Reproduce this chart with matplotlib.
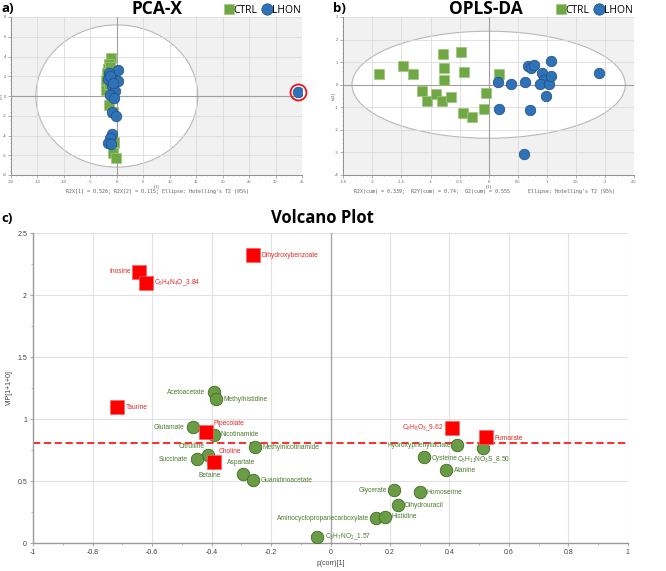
import matplotlib
matplotlib.use('Agg')
import matplotlib.pyplot as plt
from matplotlib.patches import Ellipse
from matplotlib.lines import Line2D
from matplotlib.ticker import MultipleLocator, FuncFormatter

plt.rcParams['font.family'] = ['Liberation Sans', 'DejaVu Sans']
plt.rcParams['mathtext.fontset'] = 'custom'
plt.rcParams['mathtext.rm'] = 'Liberation Sans'
plt.rcParams['mathtext.default'] = 'regular'

# ---------------- data ----------------
pca_ctrl_t1 = [-1.1, -1.4, -1.6, -1.9, -2.1, -2.0, -1.5, -1.2, -0.9, -1.4, -0.7, -0.6, -0.7, -0.6, -0.1, -1.0, -0.8, -1.3]
pca_ctrl_t2 = [3.8, 3.2, 2.7, 2.3, 1.6, 0.6, 1.2, 1.8, 1.5, -0.9, -1.6, -4.8, -5.8, -4.7, -6.3, 0.3, 2.0, 2.9]
pca_lhon_t1 = [0.3, -1.4, -1.6, 0.2, -0.9, -0.4, -1.2, -0.6, -1.0, -0.1, -1.0, -1.2, -1.6, -1.1, -1.3, -0.7, 34.3]
pca_lhon_t2 = [2.6, 2.3, 1.7, 1.5, 1.0, 0.55, 0.1, -0.2, -1.6, -2.0, -3.8, -4.3, -4.8, -4.9, 2.0, 1.3, 0.4]
pca_outlier = (34.3, 0.4)
pca_ellipse = (15.3, 7.2)
pca_stats = "R2X[1] = 0.526; R2X[2] = 0.115; Ellipse: Hotelling's T2 (95%)"

opls_ctrl_t1 = [-1.89, -1.47, -1.30, -0.79, -0.76, -0.77, -1.15, -1.06, -0.91, -0.80, -0.65, -0.47, -0.42, -0.44, -0.29, -0.08, -0.05, 0.17]
opls_ctrl_to1 = [0.46, 0.84, 0.49, 1.34, 0.74, 0.22, -0.27, -0.70, -0.43, -0.74, -0.54, 1.45, 0.57, -1.26, -1.41, -1.07, -0.36, 0.49]
opls_lhon_t1 = [0.16, 0.18, 0.38, 0.62, 0.67, 0.72, 0.78, 0.71, 0.91, 0.95, 0.88, 1.03, 1.07, 1.08, 0.98, 1.89, 0.60]
opls_lhon_to1 = [0.12, -1.07, 0.04, 0.12, 0.81, 0.74, 0.86, -1.10, 0.53, 0.22, 0.04, 0.04, 0.40, 1.06, -0.48, 0.53, -3.09]
opls_ellipse = (2.35, 2.37)
opls_stats = "R2X(cum) = 0.339;  R2Y(cum) = 0.74;  Q2(cum) = 0.555      Ellipse: Hotelling's T2 (95%)"

sig_names = ['Dihydroxybenzoate', 'Inosine', r'C$_5$H$_4$N$_4$O_3.84', 'Taurine', 'Pipecolate',
             'Choline', r'C$_8$H$_8$O$_3$_9.62', 'Fumarate']
sig_pcorr = [-0.260, -0.645, -0.620, -0.717, -0.419, -0.391, 0.409, 0.524]
sig_vip = [2.322, 2.186, 2.096, 1.094, 0.892, 0.653, 0.925, 0.852]

ns_names = ['Acetoacetate', 'Methylhistidine', 'Glutamate', 'Nicotinamide', 'Methylnicotinamide',
            'Citrulline', 'Succinate', 'Betaine', 'Aspartate', 'Guanidinoacetate',
            r'C$_3$H$_7$NO$_2$_1.57', 'Aminocyclopropanecarboxylate', 'Histidine', 'Dihydrouracil',
            'Glycerate', 'Homoserine', 'Alanine', 'Cysteine', r'C$_5$H$_{11}$NO$_3$S_8.50',
            'Hydroxyphenyllactate']
ns_pcorr = [-0.393, -0.385, -0.464, -0.391, -0.254, -0.411, -0.449, -0.395, -0.294, -0.260,
            -0.045, 0.154, 0.182, 0.227, 0.212, 0.301, 0.387, 0.315, 0.514, 0.426]
ns_vip = [1.215, 1.161, 0.933, 0.871, 0.777, 0.707, 0.675, 0.650, 0.556, 0.508,
          0.051, 0.199, 0.212, 0.306, 0.427, 0.409, 0.589, 0.691, 0.763, 0.790]
vip_threshold = 0.81

# label placement (pixels offset, alignment)
sig_label_style = [(8, 0, 'left'), (-8, 0, 'right'), (8, 0, 'left'), (8, 0, 'left'), (8, 9, 'left'),
                   (4, 11, 'left'), (-9, 1, 'right'), (8, -1, 'left')]
ns_label_style = [(-8, 0, 'right'), (7, 0, 'left'), (-8, 0, 'right'), (6, 0, 'left'), (7, -1, 'left'),
                  (-4, 9, 'right'), (-9, 0, 'right'), (-3, -13, 'center'), (-2, 12, 'center'), (7, 0, 'left'),
                  (8, 0, 'left'), (-7, 0, 'right'), (7, 0, 'left'), (7, 0, 'left'),
                  (-7, 0, 'right'), (7, 0, 'left'), (8, -1, 'left'), (8, -1, 'left'), (0, -11, 'center'),
                  (-6, 0, 'right')]

W, H = 666, 571
fig = plt.figure(figsize=(W / 100, H / 100), dpi=100)


def fx(px):
    return px / W


def fy(py):
    return 1 - py / H


GREEN = '#70a845'
GREEN_E = '#9cc57a'
BLUE = '#2f72b8'
BLUE_E = '#1f4e80'
fmt = FuncFormatter(lambda v, p: '%g' % (round(v, 6) + 0.0))


def score_axes(rect, xlim, ylim, xstep, ystep, ell, xlabel, ylabel):
    ax = fig.add_axes(rect)
    ax.set_facecolor('#f1f1f1')
    ax.set_xlim(*xlim)
    ax.set_ylim(*ylim)
    ax.add_patch(Ellipse((0, 0), 2 * ell[0], 2 * ell[1], facecolor='white', edgecolor='#b8b8b8',
                         lw=0.8, zorder=0.3))
    ax.set_axisbelow(True)
    ax.grid(True, color='#dcdcdc', lw=0.6)
    ax.axhline(0, color='#a0a0a0', lw=0.8, zorder=1)
    ax.axvline(0, color='#a0a0a0', lw=0.8, zorder=1)
    ax.xaxis.set_major_locator(MultipleLocator(xstep))
    ax.yaxis.set_major_locator(MultipleLocator(ystep))
    ax.xaxis.set_minor_locator(MultipleLocator(xstep / 5))
    ax.yaxis.set_minor_locator(MultipleLocator(ystep / 5))
    ax.xaxis.set_major_formatter(fmt)
    ax.yaxis.set_major_formatter(fmt)
    for s in ['top', 'right']:
        ax.spines[s].set_visible(False)
    for s in ['left', 'bottom']:
        ax.spines[s].set_color('#909090')
        ax.spines[s].set_linewidth(0.7)
    ax.tick_params(which='major', labelsize=3, length=2, width=0.5, color='#909090',
                   labelcolor='#606060', pad=1.5)
    ax.tick_params(which='minor', length=1, width=0.4, color='#909090')
    ax.set_xlabel(xlabel, fontsize=3, color='#606060', labelpad=1)
    ax.set_ylabel(ylabel, fontsize=3, color='#606060')
    ax.yaxis.set_label_coords(-0.027, 0.5)
    return ax


# ---------------- a) PCA-X ----------------
ax1 = score_axes([fx(11), fy(175), fx(291), 158 / H], (-20, 35), (-8, 8), 5, 2, pca_ellipse, 't[1]', 't[2]')
ax1.plot(pca_ctrl_t1, pca_ctrl_t2, 's', ms=7.2, mfc=GREEN, mec=GREEN_E, mew=0.5, ls='none', zorder=3)
ax1.plot(pca_lhon_t1, pca_lhon_t2, 'o', ms=7.6, mfc=BLUE, mec=BLUE_E, mew=0.5, ls='none', zorder=4)
ax1.plot([pca_outlier[0]], [pca_outlier[1]], 'o', ms=11.5, mfc='none', mec='#e8141c', mew=1.3, zorder=5,
         clip_on=False)
fig.text(fx(157), fy(8.5), 'PCA-X', fontsize=12.5, fontweight='bold', family='Open Sans',
         ha='center', va='center')
fig.text(fx(157), fy(191), pca_stats, fontsize=3.6, family='DejaVu Sans Mono', color='#606060',
         ha='center', va='center')
fig.text(fx(1.5), fy(9), 'a)', fontsize=9.5, fontweight='bold', family='Open Sans', ha='left', va='center')

# ---------------- b) OPLS-DA ----------------
ax2 = score_axes([fx(343.3), fy(175), fx(290.7), 158 / H], (-2.5, 2.5), (-4, 3), 0.5, 1, opls_ellipse,
                 't[1]', 'to[1]')
ax2.plot(opls_ctrl_t1, opls_ctrl_to1, 's', ms=7.2, mfc=GREEN, mec=GREEN_E, mew=0.5, ls='none', zorder=3)
ax2.plot(opls_lhon_t1, opls_lhon_to1, 'o', ms=7.6, mfc=BLUE, mec=BLUE_E, mew=0.5, ls='none', zorder=4)
fig.text(fx(486), fy(8.5), 'OPLS-DA', fontsize=12.5, fontweight='bold', family='Open Sans',
         ha='center', va='center')
fig.text(fx(485), fy(191), opls_stats, fontsize=3.6, family='DejaVu Sans Mono', color='#606060',
         ha='center', va='center')
fig.text(fx(333), fy(9), 'b)', fontsize=9.5, fontweight='bold', family='Open Sans', ha='left', va='center')

# legends
handles = [Line2D([], [], marker='s', ls='none', ms=7.5, mfc=GREEN, mec=GREEN_E, mew=0.5),
           Line2D([], [], marker='o', ls='none', ms=8.2, mfc=BLUE, mec=BLUE_E, mew=0.5)]
for x0 in (225, 557):
    fig.legend(handles, ['CTRL', 'LHON'], loc='center left', bbox_to_anchor=(fx(x0), fy(10.5)),
               ncol=2, frameon=False, handlelength=0.8, handletextpad=0.05, columnspacing=0.5,
               borderpad=0, borderaxespad=0, prop={'family': 'Open Sans', 'size': 7.5})

# ---------------- c) Volcano ----------------
ax3 = fig.add_axes([fx(33.3), fy(543), fx(594.4), 310 / H])
ax3.set_xlim(-1, 1)
ax3.set_ylim(0, 2.5)
ax3.xaxis.set_major_locator(MultipleLocator(0.2))
ax3.xaxis.set_minor_locator(MultipleLocator(0.1))
ax3.yaxis.set_major_locator(MultipleLocator(0.5))
ax3.yaxis.set_minor_locator(MultipleLocator(0.25))
ax3.xaxis.set_major_formatter(fmt)
ax3.yaxis.set_major_formatter(fmt)
ax3.set_axisbelow(True)
ax3.grid(True, color='#e2e2e2', lw=0.8)
for s in ['top', 'right']:
    ax3.spines[s].set_visible(False)
for s in ['left', 'bottom']:
    ax3.spines[s].set_color('#9a9a9a')
    ax3.spines[s].set_linewidth(1.0)
ax3.tick_params(which='major', labelsize=5, length=2.5, width=0.6, color='#9a9a9a',
                labelcolor='#404040', pad=2)
ax3.tick_params(which='minor', length=1.5, width=0.5, color='#9a9a9a')
ax3.axvline(0, color='#a8a8a8', lw=1.0, zorder=1)
ax3.axhline(vip_threshold, color='#ff1a1a', lw=1.3, ls=(0, (4, 2)), zorder=2)
ax3.set_xlabel('p(corr)[1]', fontsize=5, color='#404040', labelpad=3)
ax3.set_ylabel('VIP[1+1+0]', fontsize=5, color='#404040', labelpad=3)

ax3.scatter(ns_pcorr, ns_vip, s=12.5 ** 2 * 0.52, marker='o', c='#6a9b45', edgecolors='#3f6b26',
            linewidths=0.6, zorder=4)
ax3.scatter(sig_pcorr, sig_vip, s=10 ** 2, marker='s', c='#ff0000', edgecolors='#ff6060',
            linewidths=0.5, zorder=5)

for name, xv, yv, (dx, dy, ha) in zip(ns_names, ns_pcorr, ns_vip, ns_label_style):
    ax3.annotate(name, (xv, yv), xytext=(dx, dy), textcoords='offset pixels', ha=ha, va='center',
                 fontsize=4.8, color='#4e7a30', zorder=6)
for name, xv, yv, (dx, dy, ha) in zip(sig_names, sig_pcorr, sig_vip, sig_label_style):
    ax3.annotate(name, (xv, yv), xytext=(dx, dy), textcoords='offset pixels', ha=ha, va='center',
                 fontsize=4.8, color='#e02a2a', zorder=6)

fig.text(fx(322), fy(218), 'Volcano Plot', fontsize=12, fontweight='bold', family='Open Sans',
         ha='center', va='center')
fig.text(fx(1.5), fy(219), 'c)', fontsize=9.5, fontweight='bold', family='Open Sans', ha='left', va='center')

fig.savefig('out.png', dpi=100)
